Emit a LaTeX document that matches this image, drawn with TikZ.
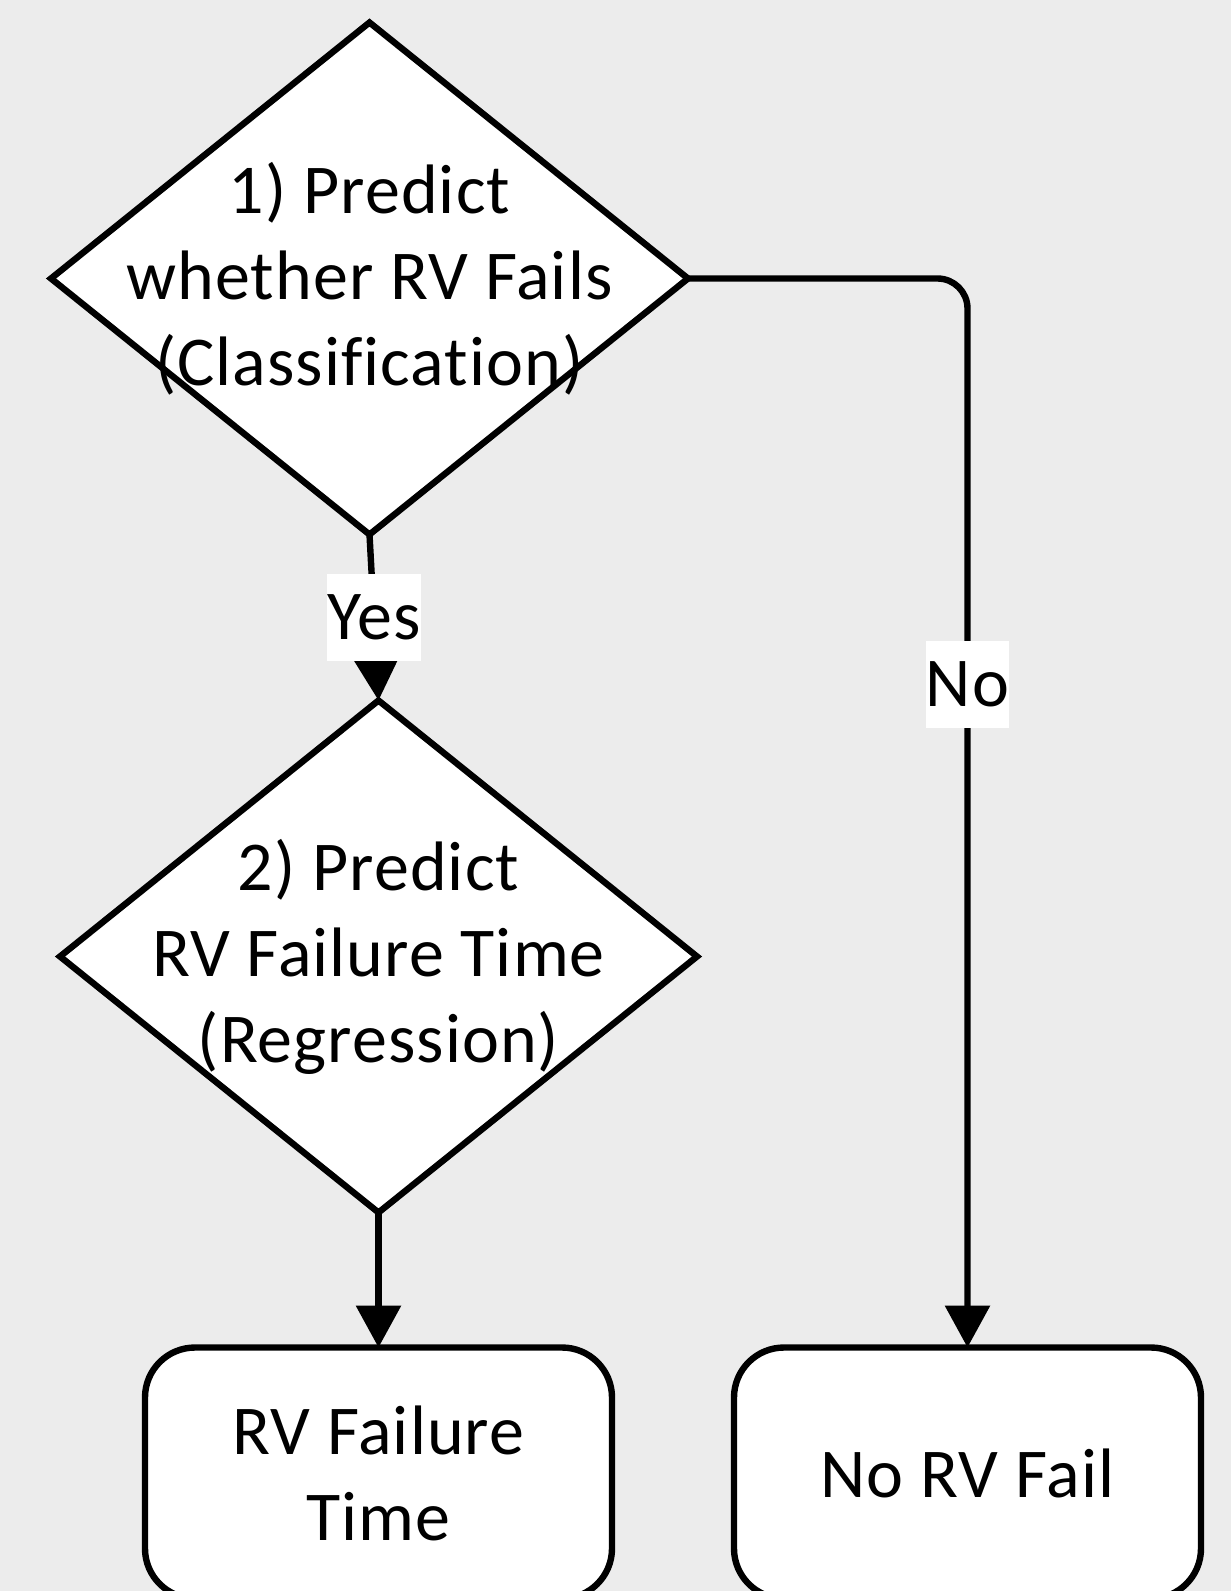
\documentclass[tikz,border=0pt]{standalone}
\usepackage{fontspec}
\setmainfont{Carlito}[RawFeature={-liga;-clig;-calt;-dlig},LetterSpace=1.5]
\usetikzlibrary{positioning,shapes.geometric,arrows.meta}
\definecolor{paper}{RGB}{236,236,236}
\tikzset{decision node/.style={diamond,draw,fill=white,line width=3.2pt,minimum width=318.5pt,minimum height=256pt,inner sep=0pt,outer sep=0pt},
end node/.style={rectangle,rounded corners=25pt,draw,fill=white,line width=3.2pt,minimum width=233.5pt,minimum height=125.5pt,outer sep=0pt,align=center,font=\fontsize{35}{43}\selectfont},
flow text/.style={align=center,font=\fontsize{35}{43}\selectfont},
answer/.style={fill=white,sharp corners,inner sep=0pt,minimum height=43.5pt,font=\fontsize{35}{43}\selectfont},
flow arrow/.style={line width=3.2pt,-{Triangle[length=21pt,width=22pt]}},
}

\begin{document}
\begin{tikzpicture}[x=0.5pt,y=-0.5pt]
				\fill[paper] (0,0) rectangle (1231,1591);
				\useasboundingbox (0,0) rectangle (1231,1591);
				
				\node[decision node] (classify) at (369.5,278.5) {};
				\node[flow text] (classifytext) at (classify) {1) Predict\\whether RV Fails\\(Classification)};
				\node[decision node] (regress) [below=83pt of classify,xshift=4.5pt] {};
				\node[flow text] (regresstext) at (regress) {2) Predict\\RV Failure Time\\(Regression)};
				\node[end node] (failtime) [below=67.5pt of regress] {RV Failure\\Time};
				\node[end node] (nofail) [right=61pt of failtime] {No RV Fail};
				
				\draw[flow arrow] (classify.south) -- node[answer] {Yes} (regress.north);
				\draw[flow arrow] (regress.south) -- (failtime.north);
				\draw[flow arrow,rounded corners=15pt] (classify.east) -| node[answer,pos=0.69] {No} (nofail.north);
				
			\end{tikzpicture}
\end{document}
